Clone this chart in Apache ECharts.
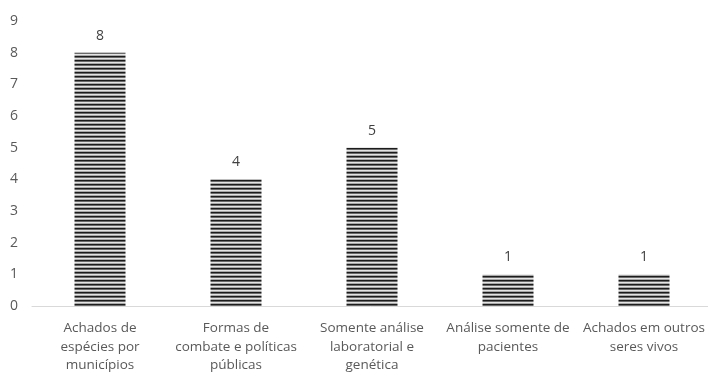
<!DOCTYPE html>
<html>
<head>
<meta charset="utf-8">
<script src="https://cdn.jsdelivr.net/npm/echarts@6/dist/echarts.min.js"></script>
<style>
  html, body { margin: 0; padding: 0; background: #fff; }
  #container { width: 708px; height: 377px; }
</style>
</head>
<body>
<div id="container"></div>
<script>
// dados do grafico
var categorias = [
    'Achados de\nespécies por\nmunicípios',
    'Formas de\ncombate e políticas\npúblicas',
    'Somente análise\nlaboratorial e\ngenética',
    'Análise somente de\npacientes',
    'Achados em outros\nseres vivos'
];
var valores = [8, 4, 5, 1, 1];
var ticksY = [0, 1, 2, 3, 4, 5, 6, 7, 8, 9];

// listras horizontais das barras
function listras() {
    var c = document.createElement('canvas');
    c.width = 8;
    c.height = 4;
    var ctx = c.getContext('2d');
    var cores = ['#1c1c1c', '#6a6a6a', '#e4e4e4', '#a8a8a8'];
    for (var i = 0; i < cores.length; i++) {
        ctx.fillStyle = cores[i];
        ctx.fillRect(0, i, 8, 1);
    }
    return c;
}

var myChart = echarts.init(document.getElementById('container'));
var fonte = 'Open Sans';
var option = {
    animation: false,
    grid: { left: 32, width: 680, top: 21, height: 285, outerBoundsMode: 'none', containLabel: false },
    xAxis: {
        type: 'category',
        data: categorias,
        axisLine: { lineStyle: { color: '#d9d9d9', width: 1 } },
        axisTick: { show: false },
        axisLabel: {
            interval: 0,
            margin: 13,
            color: '#595959',
            fontFamily: fonte,
            fontSize: 13.5,
            lineHeight: 18.5
        }
    },
    yAxis: {
        type: 'value',
        min: ticksY[0],
        max: ticksY[ticksY.length - 1],
        interval: 1,
        splitLine: { show: false },
        axisLine: { show: false },
        axisTick: { show: false },
        axisLabel: {
            margin: 14,
            color: '#595959',
            fontFamily: fonte,
            fontSize: 14
        }
    },
    series: [{
        type: 'bar',
        data: valores,
        barWidth: 51,
        itemStyle: { color: { image: listras(), repeat: 'repeat' } },
        label: {
            show: true,
            position: 'top',
            distance: 10,
            color: '#404040',
            fontFamily: fonte,
            fontSize: 14
        }
    }]
};
myChart.setOption(option);
</script>
</body>
</html>
